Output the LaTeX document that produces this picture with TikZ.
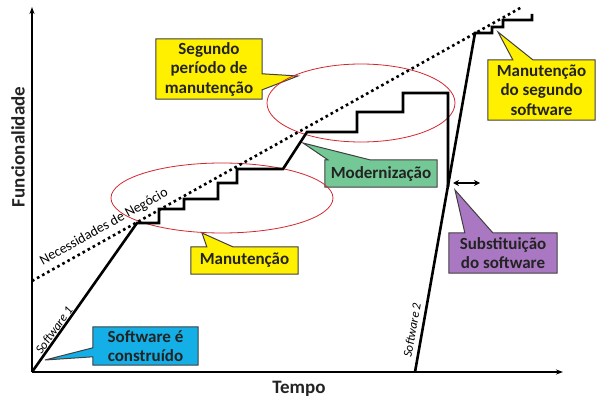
\documentclass[tikz,border=0pt]{standalone}
\usepackage{fontspec}
\setmainfont{Carlito}
\usetikzlibrary{arrows.meta,backgrounds,calc,shapes.geometric}
\definecolor{cyel}{RGB}{255,240,0}
\definecolor{cblue}{RGB}{20,175,230}
\definecolor{cgreen}{RGB}{115,200,150}
\definecolor{cpurp}{RGB}{170,120,195}
\definecolor{cred}{RGB}{210,40,45}
\definecolor{ctext}{RGB}{35,35,35}
\begin{document}
\begin{tikzpicture}[x=1pt,y=-1pt,
  boxtext/.style={font=\fontsize{17}{19.5}\selectfont\bfseries, text=ctext, align=center, inner sep=0pt},
  callout/.style={draw=black!75, line width=1pt, line join=miter},
  curve/.style={line width=2.6pt, line join=miter, line cap=butt},
  axis/.style={line width=1.3pt, -{Stealth[length=7pt,width=5pt]}},
  ring/.style={ellipse, draw=cred, line width=0.8pt, inner sep=0pt},
  axlabel/.style={font=\fontsize{19}{22}\selectfont\bfseries, text=ctext, inner sep=0pt},
  small/.style={font=\fontsize{14}{16}\selectfont, text=black, inner sep=0pt},
  smallit/.style={font=\fontsize{12.5}{14}\selectfont\itshape, text=black, inner sep=0pt},
  dotline/.style={line width=2.6pt, dash pattern=on 2.6pt off 3.2pt},
]
\useasboundingbox (0,0) rectangle (612,403);

% axes
\coordinate (O) at (32,372);
\coordinate (Ytop) at (32,7);
\coordinate (Xend) at (563,372);
\draw[axis] (O) -- (Ytop);
\draw[axis] (O) -- (Xend);
\node[axlabel, rotate=90] (ylab) at (18,147) {Funcionalidade};
\node[axlabel] (xlab) at (299,389) {Tempo};

% ellipses
\node[ring, minimum width=222, minimum height=70] (e1) at (222,198) {};
\node[ring, minimum width=188, minimum height=78] (e2) at (361,103) {};

% business needs
\coordinate (n1) at (32,281);
\coordinate (n2) at (522,7);
\draw[dotline] (n1) -- (n2);
\node[small, rotate=29] (nec) at (104,227) {Necessidades de Negócio};

% software 1
\coordinate (s1end) at (137,223);
\draw[curve] (O) -- (s1end) -- (159,223) -- (159,209) -- (184,209) -- (184,199)
  -- (218,199) -- (218,183) -- (237,183) -- (237,169) -- (283,169) -- (307,132)
  -- (357,132) -- (357,112) -- (403,112) -- (403,93) -- (448,93) -- (448,187);
\node[smallit, rotate=54.5] (sw1) at (54,330) {Software 1};

% software 2
\coordinate (s2a) at (415,372);
\coordinate (s2b) at (475,33);
\draw[curve] (s2a) -- (s2b) -- (492,33) -- (492,27) -- (503,27) -- (503,20) -- (532,20) -- (532,14);
\node[smallit, rotate=80] (sw2) at (412,330) {Software 2};

% double arrow
\coordinate (da1) at (453,183);
\coordinate (da2) at (480,183);
\draw[line width=1.4pt, {Stealth[length=6pt,width=6pt]}-{Stealth[length=6pt,width=6pt]}] (da1) -- (da2);

% callouts
\node[boxtext, minimum width=106, minimum height=60] (seg) at (209,69) {Segundo\\período de\\manutenção};
\coordinate (tseg) at (298,76);
\node[boxtext, minimum width=107, minimum height=27] (man) at (244.5,260.5) {Manutenção};
\coordinate (tman) at (202,233);
\node[boxtext, minimum width=105, minimum height=38] (sw) at (145.5,346) {Software é\\construído};
\coordinate (tsw) at (45,360);
\node[boxtext, minimum width=112, minimum height=27] (mod) at (381,173.5) {Modernização};
\coordinate (tmod) at (303,143);
\node[boxtext, minimum width=108, minimum height=40] (sub) at (503,253) {Substituição\\do software};
\coordinate (tsub) at (455,190);
\node[boxtext, minimum width=107, minimum height=60] (man2) at (541.5,90) {Manutenção\\do segundo\\software};
\coordinate (tman2) at (498,32);

\begin{pgfonlayer}{background}
\draw[callout, fill=cyel] (seg.north west) -- (seg.north east) -- ($(seg.north east)+(0,35)$) -- (tseg)
  -- ($(seg.north east)+(0,51)$) -- (seg.south east) -- (seg.south west) -- cycle;
\draw[callout, fill=cyel] (man.north west) -- ($(man.north west)+(16,0)$) -- (tman)
  -- ($(man.north west)+(42,0)$) -- (man.north east) -- (man.south east) -- (man.south west) -- cycle;
\draw[callout, fill=cblue] (sw.north west) -- (sw.north east) -- (sw.south east) -- (sw.south west)
  -- ($(sw.north west)+(0,30)$) -- (tsw) -- ($(sw.north west)+(0,21)$) -- cycle;
\draw[callout, fill=cgreen] (mod.north west) -- ($(mod.north west)+(3,0)$) -- (tmod)
  -- ($(mod.north west)+(45,0)$) -- (mod.north east) -- (mod.south east) -- (mod.south west) -- cycle;
\draw[callout, fill=cpurp] (sub.north west) -- ($(sub.north west)+(16,0)$) -- (tsub)
  -- ($(sub.north west)+(44,0)$) -- (sub.north east) -- (sub.south east) -- (sub.south west) -- cycle;
\draw[callout, fill=cyel] (man2.north west) -- ($(man2.north west)+(25,0)$) -- (tman2)
  -- ($(man2.north west)+(45,0)$) -- (man2.north east) -- (man2.south east) -- (man2.south west) -- cycle;
\end{pgfonlayer}
\end{tikzpicture}
\end{document}
